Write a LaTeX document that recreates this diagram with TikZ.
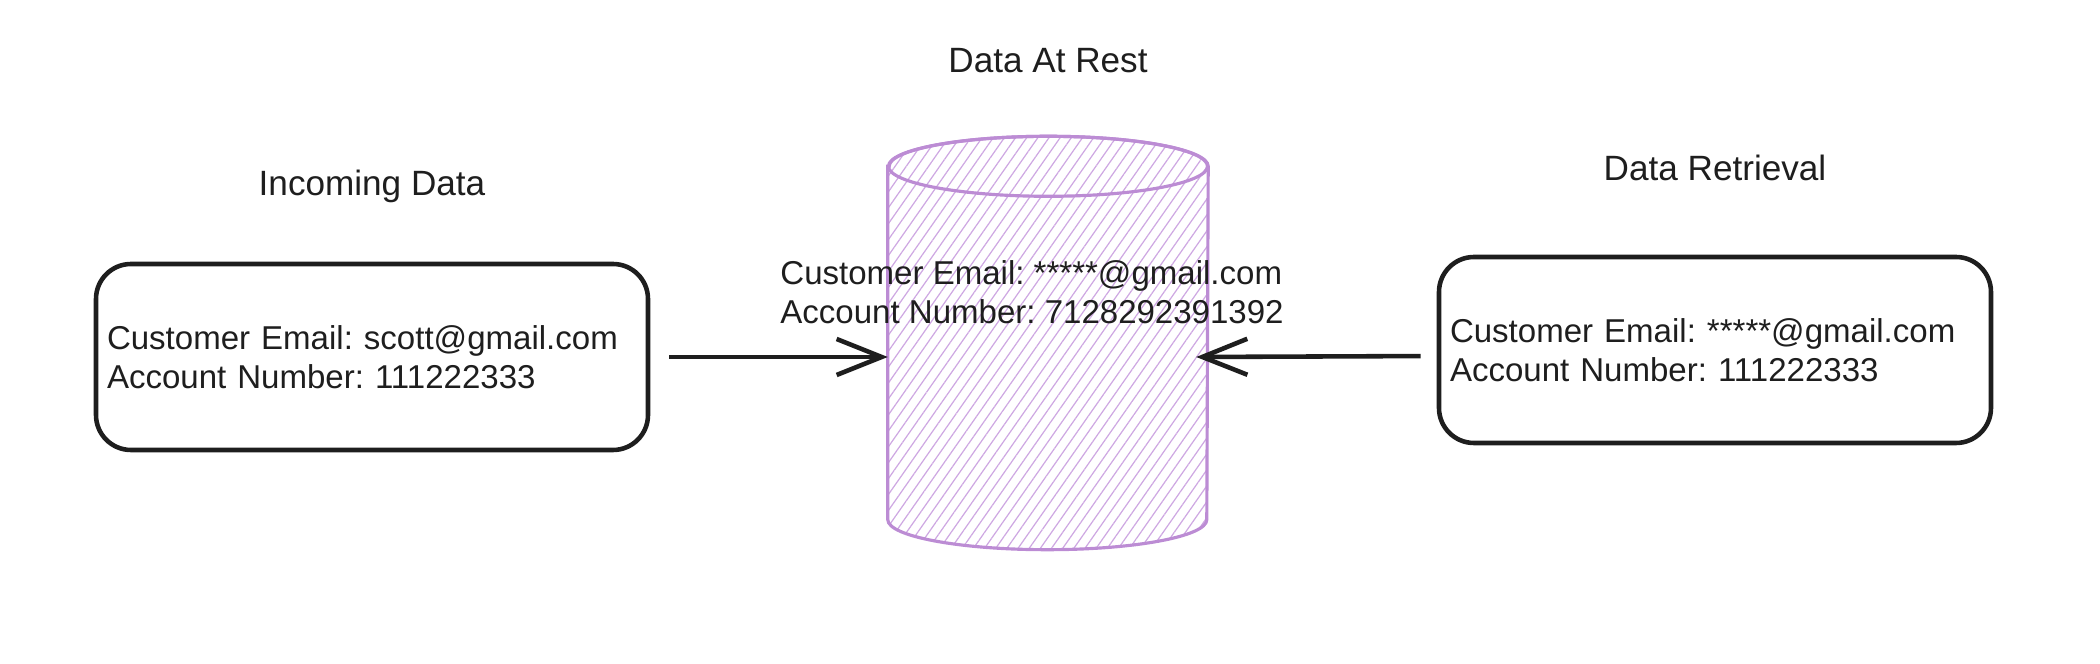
\documentclass[tikz,border=0pt]{standalone}
\usepackage{fontspec}
\setmainfont{Liberation Sans}
\usetikzlibrary{positioning, arrows.meta, patterns.meta}
\frenchspacing

\definecolor{inkblack}{RGB}{30,30,30}
\definecolor{storeviolet}{RGB}{188,140,212}
\definecolor{hatchviolet}{RGB}{206,168,226}

\tikzset{
  databox/.style={draw=inkblack, line width=1.3pt, rounded corners=0.35cm, align=left,
    text width=5.30cm, inner xsep=0.11cm, minimum height=1.86cm,
    font=\fontsize{9.4}{11.1}\selectfont, text=inkblack},
  title/.style={font=\fontsize{10}{12}\selectfont, text=inkblack},
  flow/.style={draw=inkblack, line width=1.3pt, -{Straight Barb[length=0.45cm, width=0.36cm]}},
  hatch/.style={pattern={Lines[angle=55, distance=2.6pt, line width=0.35pt]}, pattern color=hatchviolet},
}

\begin{document}
\begin{tikzpicture}
\useasboundingbox (0,0) rectangle (21,6.64);

% the store: an empty box, the cylinder is drawn over it
\node[minimum width=3.19cm, minimum height=4.12cm, inner sep=0pt] (store) at (10.48,3.21) {};
\filldraw[draw=storeviolet, line width=0.9pt, hatch]
  ([yshift=-0.3cm]store.north west) -- ([yshift=0.3cm]store.south west)
  arc[start angle=180, end angle=360, x radius=1.595cm, y radius=0.3cm]
  -- ([yshift=-0.3cm]store.north east)
  arc[start angle=0, end angle=180, x radius=1.595cm, y radius=0.3cm] -- cycle;
\draw[storeviolet, line width=0.9pt] ([yshift=-0.3cm]store.north) ellipse[x radius=1.595cm, y radius=0.3cm];

\node[databox] (inbox) at (3.72,3.07)
{Customer Email: scott@gmail.com\\Account Number: 111222333};

\node[databox] (outbox) at (17.15,3.14)
{Customer Email: *****@gmail.com\\Account Number: 111222333};

\node[anchor=west, align=left, font=\fontsize{9.4}{11.1}\selectfont, text=inkblack] (storetext) at (7.68,3.72)
{Customer Email: *****@gmail.com\\Account Number: 7128292391392};

% titles sit over their shapes
\node[title, above=0.46cm of inbox] (intitle) {Incoming Data};
\node[title, above=0.51cm of store] (storetitle) {Data At Rest};
\node[title, above=0.61cm of outbox] (outtitle) {Data Retrieval};

\draw[flow, shorten <=0.19cm] (inbox.east) -- (inbox.east -| store.west);
\draw[flow, shorten <=0.16cm] ([yshift=-0.06cm]outbox.west) -- ([xshift=-0.12cm]store.east |- inbox.east);

\end{tikzpicture}
\end{document}
